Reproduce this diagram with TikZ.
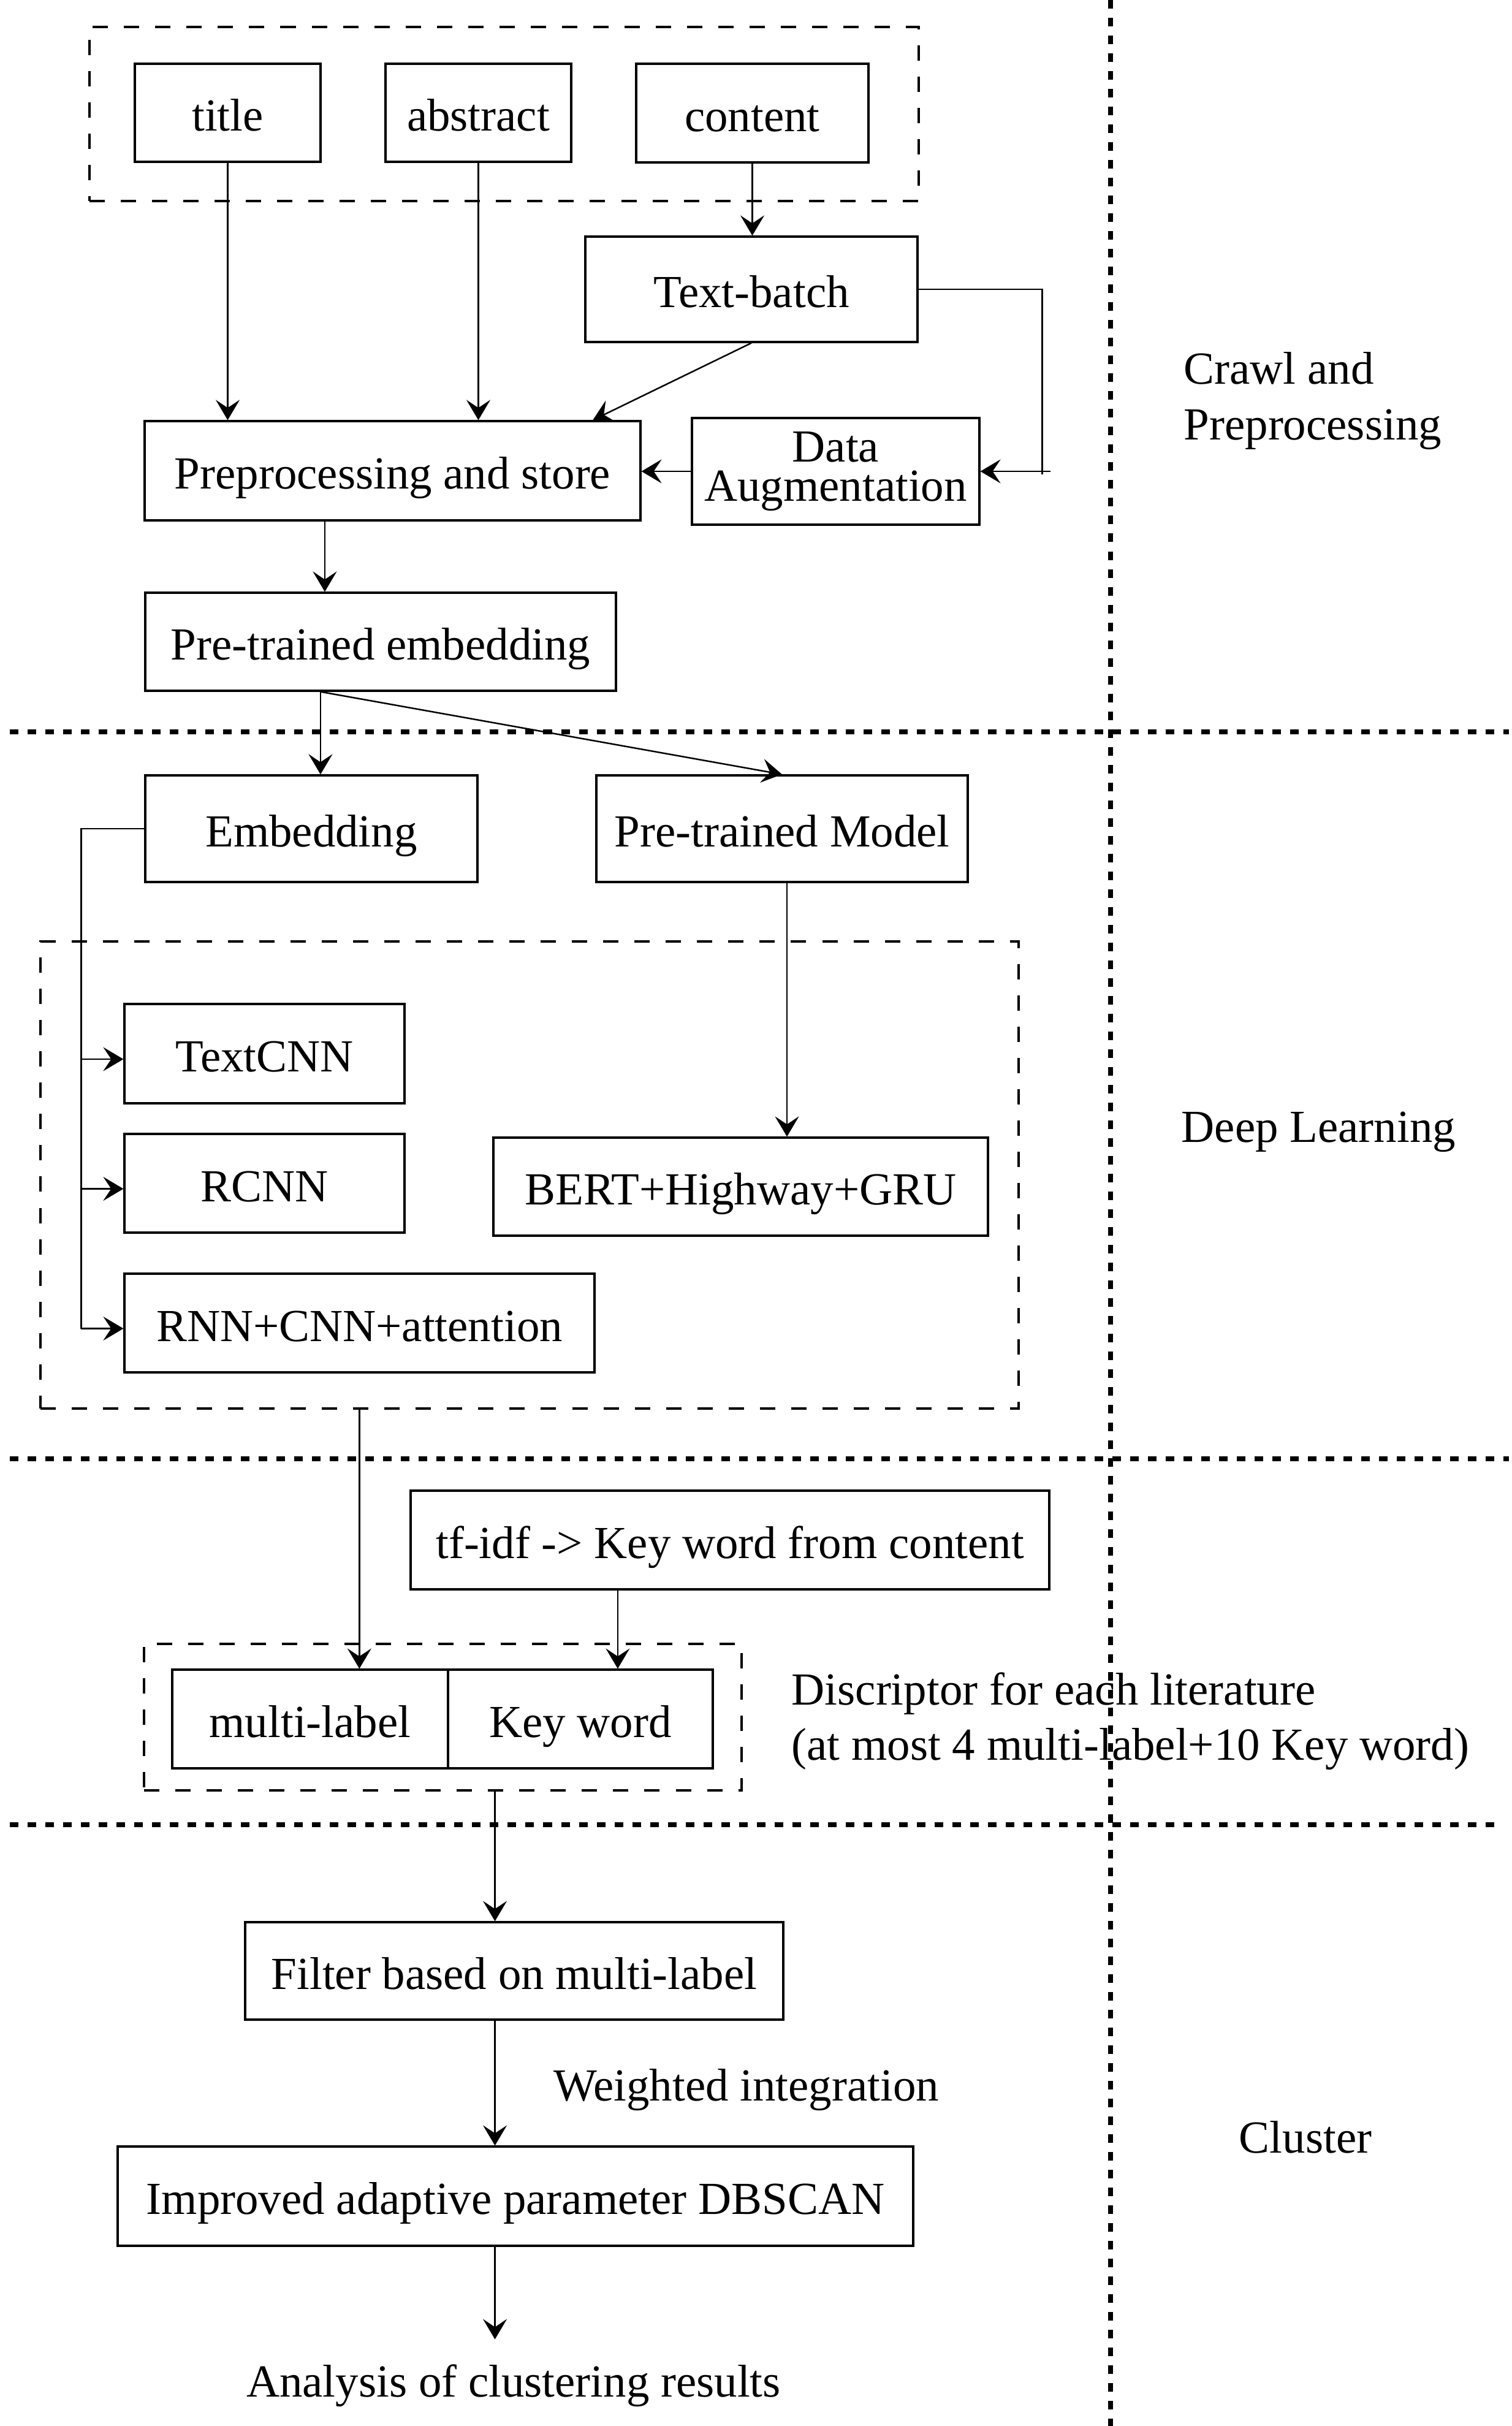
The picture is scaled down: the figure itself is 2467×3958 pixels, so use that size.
\documentclass[tikz,border=0pt]{standalone}
\usepackage{fontspec}
\setmainfont{Liberation Serif}
\usetikzlibrary{arrows.meta,calc}
\newcommand\bx[7][box]{\node[#1, minimum width={0.01cm*(#5-#3)}, minimum height={0.01cm*(#6-#4)}] (#2) at ({(#3+#5)/2},{(#4+#6)/2}) {#7};}
\begin{document}
\begin{tikzpicture}[x=0.01cm, y=-0.01cm,
  font=\fontsize{21.3pt}{25.6pt}\selectfont,
  box2/.style={draw, line width=0.9pt, inner sep=0pt, align=center},
  box/.style={box2, text height=20pt, text depth=3pt},
  grp/.style={draw, line width=0.95pt, dash pattern=on 0.25cm off 0.26cm, inner sep=0pt},
  sep/.style={line width=0.08cm, dash pattern=on 0.14cm off 0.15cm},
  ln/.style={line width=0.7pt},
  arr/.style={line width=0.7pt, -{Stealth[length=0.33cm,width=0.39cm,inset=0.13cm]}},
  lbl/.style={inner sep=0pt}]
\useasboundingbox (0,0) rectangle (2467,3958);
% separators
\draw[sep] (1812,0) -- (1812,3958);
\draw[sep] (16,1194) -- (2462,1194);
\draw[sep] (16,2380) -- (2462,2380);
\draw[sep] (16,2977) -- (2440,2977);
% groups
\bx[grp]{src}{146}{44}{1499}{328}{}
\bx[grp]{dl}{66}{1536}{1662}{2298}{}
\bx[grp]{dg}{235}{2682}{1210}{2921}{}
% boxes
\bx{title}{220}{104}{523}{264}{title}
\bx{abs}{629}{104}{932}{264}{abstract}
\bx{cont}{1038}{104}{1417}{265}{content}
\bx{tb}{955}{386}{1497}{558}{Text-batch}
\bx[box2,font=\fontsize{21.3pt}{18pt}\selectfont]{da}{1129}{682}{1598}{856}{Data\\Augmentation}
\bx{ps}{236}{687}{1045}{849}{Preprocessing and store}
\bx{pte}{237}{967}{1005}{1127}{Pre-trained embedding}
\bx{emb}{237}{1265}{779}{1439}{Embedding}
\bx{ptm}{973}{1265}{1579}{1439}{Pre-trained Model}
\bx{tcnn}{203}{1638}{660}{1800}{TextCNN}
\bx{rcnn}{203}{1850}{660}{2011}{RCNN}
\bx{rnn}{203}{2078}{970}{2239}{RNN+CNN+attention}
\bx{bert}{805}{1856}{1612}{2016}{BERT+Highway+GRU}
\bx{tf}{670}{2432}{1712}{2593}{tf-idf -> Key word from content}
\bx{ml}{281}{2724}{731}{2885}{multi-label}
\bx{kw}{731}{2724}{1163}{2885}{Key word}
\bx{fil}{400}{3136}{1278}{3295}{Filter based on multi-label}
\bx{imp}{192}{3502}{1490}{3664}{Improved adaptive parameter DBSCAN}
% labels
\node[lbl, anchor=base west, align=left] (crawl) at (1931,717) {Crawl and\\Preprocessing};
\node[lbl, anchor=base west] (deep) at (1927,1863) {Deep Learning};
\node[lbl, anchor=base west, align=left] (desc) at (1291,2871) {Discriptor for each literature\\(at most 4 multi-label+10 Key word)};
\node[lbl, anchor=base west] (wi) at (903,3427) {Weighted integration};
\node[lbl, anchor=base] (clu) at (2130,3512) {Cluster};
\node[inner xsep=0pt, inner ysep=0.4cm, anchor=base] (an) at (838,3910) {Analysis of clustering results};
% connectors
\draw[arr] (title.south) -- (title.south |- ps.north);
\draw[arr] (abs.south) -- (abs.south |- ps.north);
\draw[arr] (cont.south) -- (cont.south |- tb.north);
\draw[arr] (tb.south) -- ([xshift=3.265cm]ps.north);
\draw[ln] (tb.east) -- ++(202,0) coordinate (tbr) -- ([yshift=-0.05cm]tbr |- da.east);
\coordinate (dar) at ([xshift=1.14cm]da.east);
\draw[arr] (dar) -- (da.east);
\draw[arr] (da.west) -- (da.west -| ps.east);
\coordinate (pso) at ([xshift=-1.105cm]ps.south);
\draw[arr] (pso) -- (pso |- pte.north);
\coordinate (pteo) at ([xshift=-0.98cm]pte.south);
\draw[arr] (pteo) -- (pteo |- emb.north);
\draw[arr] (pteo) -- (ptm.north);
\coordinate (t1) at ([yshift=-0.09cm]tcnn.west);
\coordinate (t2) at ([yshift=-0.09cm]rcnn.west);
\coordinate (t3) at ([yshift=-0.09cm]rnn.west);
\draw[ln] (emb.west) -- ++(-103,0) coordinate (eb) -- (eb |- t3);
\draw[arr] (eb |- t1) -- (t1);
\draw[arr] (eb |- t2) -- (t2);
\draw[arr] (eb |- t3) -- (t3);
\coordinate (ptmo) at ([xshift=0.08cm]ptm.south);
\draw[arr] (ptmo) -- (ptmo |- bert.north);
\coordinate (dlo) at ([xshift=-2.775cm]dl.south);
\draw[arr] (dlo) -- (dlo |- ml.north);
\coordinate (tfo) at ([xshift=-1.83cm]tf.south);
\draw[arr] (tfo) -- (tfo |- kw.north);
\coordinate (dso) at ([xshift=0.85cm]dg.south);
\draw[arr] (dso) -- (dso |- fil.north);
\coordinate (fo) at (dso |- fil.south);
\draw[arr] (fo) -- (fo |- imp.north);
\coordinate (io) at (dso |- imp.south);
\draw[arr] (io) -- (io |- an.north);
\end{tikzpicture}
\end{document}
